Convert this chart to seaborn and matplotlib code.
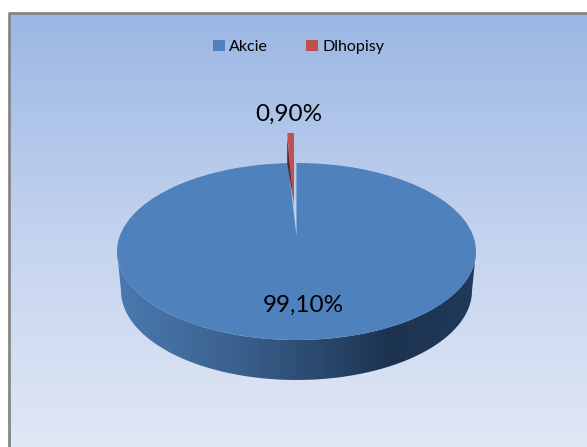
import numpy as np
import seaborn as sns
import matplotlib.pyplot as plt
from matplotlib.colors import LinearSegmentedColormap
from matplotlib.patches import Patch, PathPatch, Polygon
from matplotlib.path import Path
from matplotlib.transforms import Affine2D, Transform

categories = ["Akcie", "Dlhopisy"]
shares = [99.1, 0.9]
colors = sns.color_palette(["#4F81BD", "#C0504D"])

# pie geometry in image pixels
cx, cy, rx, ry = 296.5, 251.5, 179.5, 88.5
depth_cy, depth_rx, depth_ry = 290.5, 175.5, 89.5
tilt = 0.176


class Tilt(Transform):
    # moves the pie centre back, the way a tilted 3D pie looks
    input_dims = 2
    output_dims = 2
    is_separable = False

    def transform_non_affine(self, values):
        values = np.asarray(values, dtype=float)
        x, y = values[:, 0], values[:, 1]
        w = 1 + tilt * y
        return np.column_stack([x * np.sqrt(1 - tilt ** 2) / w, (y + tilt) / w])


sns.set_theme(style="white")
plt.rcParams["font.family"] = ["Lato", "DejaVu Sans"]

fig = plt.figure(figsize=(5.87, 4.47), dpi=100)
ax = fig.add_axes([0, 0, 1, 1])

wedges, _ = ax.pie(shares, colors=colors, startangle=90, counterclock=False,
                   wedgeprops={"linewidth": 0, "edgecolor": "none"})
ax.set_aspect("auto")
ax.axis("off")

# chart area with vertical gradient and grey frame on the left and top
back_cmap = LinearSegmentedColormap.from_list("back", ["#9BB7E4", "#C3D2EE", "#E0E8F5"])
ax.imshow(np.linspace(0, 1, 256).reshape(-1, 1), cmap=back_cmap, aspect="auto",
          extent=(9, 587, 447, 13), zorder=0)
ax.plot([9, 9], [447, 13], color="#868686", lw=2, zorder=1, solid_capstyle="butt")
ax.plot([8, 587], [13, 13], color="#868686", lw=2, zorder=1, solid_capstyle="butt")

# side wall
t = np.linspace(0, np.pi, 200)
top_edge = np.column_stack([cx + rx * np.cos(t), cy + ry * np.sin(t)])
low_edge = np.column_stack([cx + depth_rx * np.cos(t), depth_cy + depth_ry * np.sin(t)])
wall = PathPatch(Path(np.vstack([top_edge, low_edge[::-1]])), fc="none", ec="none")
ax.add_patch(wall)
wall_cmap = LinearSegmentedColormap.from_list(
    "wall", [(0, "#4A7AB0"), (0.35, "#3A5F8C"), (0.76, "#1C3350"), (1, "#21395A")])
wall_img = ax.imshow(np.linspace(0, 1, 256).reshape(1, -1), cmap=wall_cmap, aspect="auto",
                     extent=(cx - rx, cx + rx, 385, 250), zorder=2)
wall_img.set_clip_path(wall)
ax.set_xlim(0, 587)
ax.set_ylim(447, 0)

# top faces
top_tr = Tilt() + Affine2D().scale(rx, -ry).translate(cx, cy) + ax.transData
wedges[0].set_transform(top_tr)
wedges[0].set_zorder(3)
wedges[0].set_clip_on(False)

red_offset = Affine2D().scale(rx * 0.8, -ry).translate(cx - 2.5, cy - 30)
wedges[1].set_transform(Tilt() + red_offset + ax.transData)
wedges[1].set_zorder(5)
wedges[1].set_clip_on(False)

# dark side of the small slice
angle = np.deg2rad(shares[1] * 3.6)
rim = red_offset.transform(Tilt().transform(np.array([[-np.sin(angle), np.cos(angle)], [0, 0]])))
side = [rim[0] + [0, 4], rim[0] + [0, 30], rim[0] + (rim[1] - rim[0]) * 0.93]
ax.add_patch(Polygon(side, closed=True, fc="#5A2423", ec="none", zorder=6))

# data labels
labels = [f"{v:.2f}%".replace(".", ",") for v in shares]
ax.text(303.5, 305.5, labels[0], ha="center", va="center", fontsize=17.5, color="black", zorder=7)
ax.text(288.5, 114, labels[1], ha="center", va="center", fontsize=17.5, color="black", zorder=7)

handles = [Patch(fc=c, ec="none") for c in colors]
ax.legend(handles, categories, ncol=2, frameon=False, loc="center",
          bbox_to_anchor=(298.5, 47), bbox_transform=ax.transData, fontsize=11.5,
          handlelength=0.75, handleheight=0.75, handletextpad=0.25, columnspacing=2.4,
          labelcolor="black", borderpad=0)

fig.savefig("out.png", dpi=100)
